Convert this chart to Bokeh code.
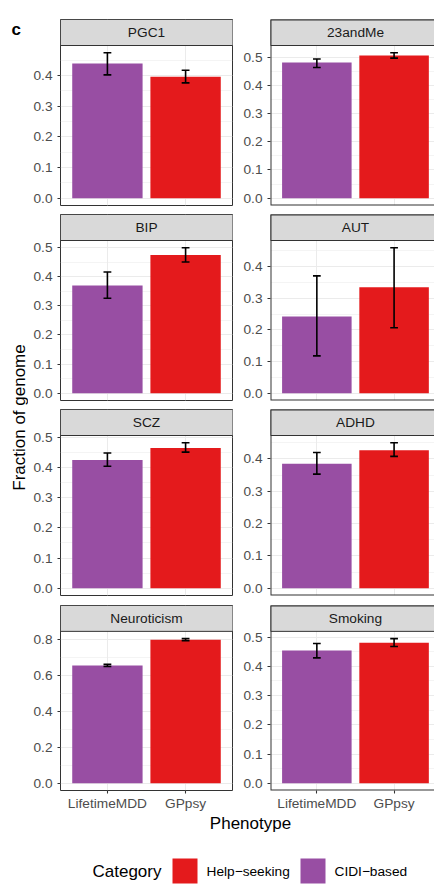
import math
from bokeh.plotting import figure
from bokeh.models import Range1d, FixedTicker, ColumnDataSource, PrintfTickFormatter
from bokeh.layouts import row, column
from bokeh.embed import file_html
from bokeh.resources import INLINE
from bokeh.core.properties import value

# ---------------- data ----------------
phenotypes = ["PGC1", "23andMe", "BIP", "AUT", "SCZ", "ADHD", "Neuroticism", "Smoking"]
categories = ["LifetimeMDD", "GPpsy"]
legend_labels = ["Help\u2212seeking", "CIDI\u2212based"]

cidi_val = [0.439, 0.481, 0.370, 0.243, 0.425, 0.385, 0.657, 0.454]
cidi_lo = [0.402, 0.463, 0.326, 0.118, 0.404, 0.353, 0.651, 0.429]
cidi_hi = [0.474, 0.493, 0.416, 0.371, 0.448, 0.420, 0.663, 0.478]

help_val = [0.396, 0.505, 0.474, 0.335, 0.465, 0.427, 0.801, 0.481]
help_lo = [0.376, 0.496, 0.450, 0.207, 0.451, 0.408, 0.795, 0.468]
help_hi = [0.417, 0.515, 0.499, 0.460, 0.482, 0.450, 0.807, 0.495]

y_ticks = [
    [0.0, 0.1, 0.2, 0.3, 0.4],
    [0.0, 0.1, 0.2, 0.3, 0.4, 0.5],
    [0.0, 0.1, 0.2, 0.3, 0.4, 0.5],
    [0.0, 0.1, 0.2, 0.3, 0.4],
    [0.0, 0.1, 0.2, 0.3, 0.4, 0.5],
    [0.0, 0.1, 0.2, 0.3, 0.4],
    [0.0, 0.2, 0.4, 0.6, 0.8],
    [0.0, 0.1, 0.2, 0.3, 0.4, 0.5],
]

y_title = "Fraction of genome"
x_title = "Phenotype"
legend_title = "Category"
panel_tag = "c"

# ---------------- style ----------------
FONT = "Liberation Sans"
PURPLE = "#984EA3"
RED = "#E41A1C"
BORDER = "#333333"
GRID = "#EBEBEB"
STRIP = "#D9D9D9"
SMALL = "13.7px"
BIG = "17px"
ERR_W = 1.6

TOP_B = [19, 5, 5, 6]
BOT_B = [4, 4, 4, 22]
FRAME_H = 186
STRIP_H = 26
PX_PER_UNIT = 172 / 2.2


def style_axis(ax, standoff):
    ax.axis_line_color = None
    ax.major_tick_line_color = BORDER
    ax.major_tick_line_width = 1.07
    ax.major_tick_out = 3
    ax.major_tick_in = 0
    ax.minor_tick_line_color = None
    ax.major_label_text_font = FONT
    ax.major_label_text_font_size = SMALL
    ax.major_label_text_color = "#4D4D4D"
    ax.major_label_standoff = standoff


def make_panel(i, col, r):
    if col == 0:
        w, lb, rb = 212, 32, 8
    else:
        w, lb, rb = 194, 28, 0
    h = TOP_B[r] + FRAME_H + BOT_B[r]
    frame_w = w - lb - rb
    x0 = 0.4
    x1 = 0.4 + frame_w / PX_PER_UNIT
    M = max(cidi_hi[i], help_hi[i])
    lo = -0.05 * M
    hi = 1.05 * M
    yend = hi + (hi - lo) * STRIP_H / (FRAME_H - STRIP_H)

    p = figure(width=w, height=h, x_range=Range1d(x0, x1), y_range=Range1d(lo, yend),
               output_backend="svg", toolbar_location=None,
               x_axis_location="below" if r == 3 else None,
               min_border_left=lb, min_border_right=rb,
               min_border_top=TOP_B[r], min_border_bottom=BOT_B[r],
               background_fill_color="white", border_fill_color="white")
    p.outline_line_color = BORDER if col == 0 else None
    p.outline_line_width = 1

    yt = y_ticks[i]
    step = yt[1] - yt[0]
    minor = [t + step / 2 for t in yt if t + step / 2 <= hi]

    p.ygrid.ticker = FixedTicker(ticks=yt, minor_ticks=minor)
    p.ygrid.grid_line_color = GRID
    p.ygrid.grid_line_width = 1.07
    p.ygrid.minor_grid_line_color = GRID
    p.ygrid.minor_grid_line_width = 0.55
    p.xgrid.ticker = FixedTicker(ticks=[1, 2])
    p.xgrid.grid_line_color = GRID
    p.xgrid.grid_line_width = 1.07

    p.yaxis.ticker = FixedTicker(ticks=yt)
    p.yaxis.formatter = PrintfTickFormatter(format="%.1f")
    style_axis(p.yaxis[0], 5)
    if r == 3:
        p.xaxis.ticker = FixedTicker(ticks=[1, 2])
        p.xaxis.major_label_overrides = {1: categories[0], 2: categories[1]}
        style_axis(p.xaxis[0], 2)

    xs = [1, 2]
    src = ColumnDataSource(dict(
        x=xs,
        top=[cidi_val[i], help_val[i]],
        lo=[cidi_lo[i], help_lo[i]],
        hi=[cidi_hi[i], help_hi[i]],
        xl=[x - 0.05 for x in xs],
        xr=[x + 0.05 for x in xs],
        color=[PURPLE, RED],
    ))
    p.vbar(x="x", top="top", bottom=0, width=0.9, fill_color="color",
           line_color=None, source=src)
    p.segment(x0="x", y0="lo", x1="x", y1="hi", line_color="black",
              line_width=ERR_W, source=src)
    p.segment(x0="xl", y0="lo", x1="xr", y1="lo", line_color="black",
              line_width=ERR_W, source=src)
    p.segment(x0="xl", y0="hi", x1="xr", y1="hi", line_color="black",
              line_width=ERR_W, source=src)

    # facet strip
    p.quad(left=[x0], right=[x1 + 1], bottom=[hi], top=[yend],
           fill_color=STRIP, line_color=BORDER, line_width=1)
    if col == 1:
        p.quad(left=[x0], right=[x1 + 1], bottom=[lo], top=[yend],
               fill_color=None, line_color=BORDER, line_width=2)
    p.text(x=[1.5], y=[(hi + yend) / 2], text=[phenotypes[i]],
           text_align="center", text_baseline="middle",
           text_font=value(FONT), text_font_size=SMALL, text_color="#1A1A1A")
    return p


left_col = []
right_col = []
for k in range(8):
    r, c = divmod(k, 2)
    pan = make_panel(k, c, r)
    (left_col if c == 0 else right_col).append(pan)

TOTAL_H = sum(TOP_B) + 4 * FRAME_H + sum(BOT_B)

yl = figure(width=28, height=TOTAL_H, x_range=Range1d(0, 28), y_range=Range1d(TOTAL_H, 0),
            output_backend="svg", toolbar_location=None,
            x_axis_location=None, y_axis_location=None, min_border=0,
            background_fill_color="white", border_fill_color="white")
yl.outline_line_color = None
yl.grid.visible = False
yl.text(x=[18.7], y=[417], text=[y_title], angle=math.pi / 2,
        text_align="center", text_baseline="middle",
        text_font=value(FONT), text_font_size=BIG, text_color="black")
yl.text(x=[11], y=[28.5], text=[panel_tag], text_align="left", text_baseline="middle",
        text_font=value(FONT), text_font_size="17px", text_font_style="bold",
        text_color="black")

BOT_H = 884 - TOTAL_H
bf = figure(width=434, height=BOT_H, x_range=Range1d(0, 434), y_range=Range1d(884, TOTAL_H),
            output_backend="svg", toolbar_location=None,
            x_axis_location=None, y_axis_location=None, min_border=0,
            background_fill_color="white", border_fill_color="white")
bf.outline_line_color = None
bf.grid.visible = False
bf.text(x=[250], y=[822.5], text=[x_title], text_align="center", text_baseline="middle",
        text_font=value(FONT), text_font_size=BIG, text_color="black")
bf.text(x=[92], y=[871], text=[legend_title], text_align="left", text_baseline="middle",
        text_font=value(FONT), text_font_size=BIG, text_color="black")
bf.quad(left=[172, 300], right=[197, 325], top=[858, 858], bottom=[883, 883],
        fill_color=[RED, PURPLE], line_color=None)
bf.text(x=[206, 334], y=[870.8, 870.8], text=legend_labels, text_align="left",
        text_baseline="middle", text_font=value(FONT), text_font_size=SMALL,
        text_color="black")

layout = column(row(yl, column(*left_col), column(*right_col)), bf)

open("out.html", "w").write(file_html(layout, INLINE))
